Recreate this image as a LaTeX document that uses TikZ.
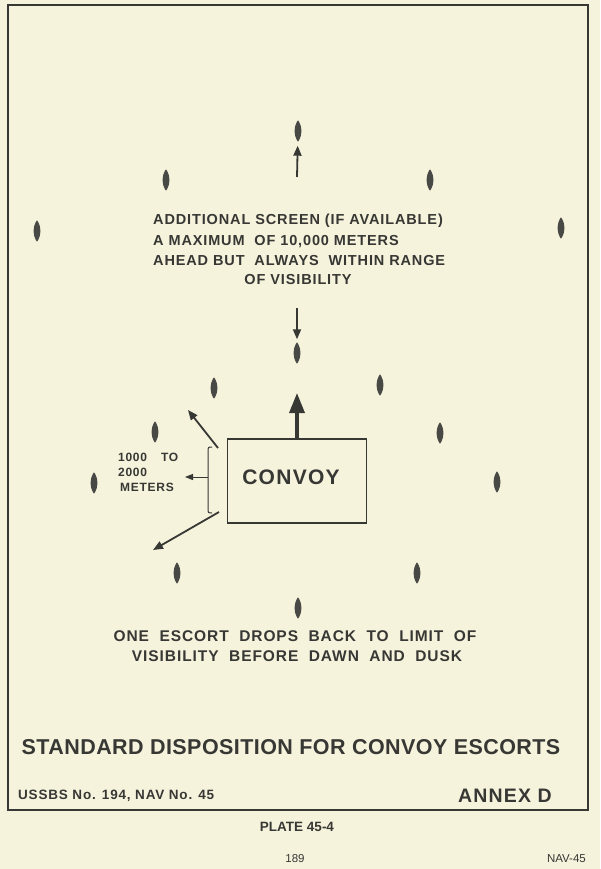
\documentclass[tikz,border=0pt]{standalone}
\usepackage{fontspec}
\setmainfont{Liberation Sans}
\newfontfamily\letr[LetterSpace=6]{Liberation Sans Bold}
\newfontfamily\ttl[LetterSpace=2]{Liberation Sans Bold}
\usepackage{xcolor}
\usetikzlibrary{arrows.meta,positioning,shapes.geometric}
\definecolor{paper}{RGB}{246,243,221}
\definecolor{ink}{RGB}{55,55,52}
\definecolor{hull}{RGB}{72,72,68}

\begin{document}
\begin{tikzpicture}[x=1pt,y=-1pt,>=Triangle,
    escort/.style={rectangle, minimum width=7pt, minimum height=21pt, inner sep=0pt},
    lettering/.style={inner sep=0pt, text=ink, font=\letr\fontsize{14.5}{18}\selectfont},
    course/.style={->, draw=ink, line width=1.8pt, >={Triangle[length=10pt,width=8pt]}}]
    \fill[paper] (0,0) rectangle (600,869);
    \useasboundingbox (0,0) rectangle (600,869);
    \draw[ink, line width=1.6pt] (8,5) rectangle (588,810);
    % escorts round the convoy
    \foreach \x/\y [count=\i] in {298/131, 166/180, 430/180, 37/231, 561/228, 297/353,
      214/388, 380/385, 155/432, 440/433, 94/483, 497/482, 177/573, 417/573, 298/608} {
      \node[escort] (e\i) at (\x,\y) {};
      \fill[hull] (e\i.north) .. controls ([xshift=4.5pt,yshift=5pt]e\i.center) and ([xshift=4.5pt,yshift=-5pt]e\i.center) .. (e\i.south)
        .. controls ([xshift=-4.5pt,yshift=-5pt]e\i.center) and ([xshift=-4.5pt,yshift=5pt]e\i.center) .. cycle;
    }
    \node[draw=ink, line width=1.5pt, minimum width=139pt, minimum height=84pt, inner sep=0pt] (convoy) at (297,481) {};
    \node[lettering, font=\letr\fontsize{21}{24}\selectfont] (convoylbl) at ([xshift=-6pt,yshift=4pt]convoy.center) {CONVOY};
    % screen ahead
    \node[lettering, anchor=base west] (scr1) at (153,224) {ADDITIONAL SCREEN (IF AVAILABLE)};
    \node[lettering, anchor=base west] (scr2) at (153,245) {A MAXIMUM~ OF 10,000 METERS};
    \node[lettering, anchor=base west] (scr3) at (153,265) {AHEAD BUT~ ALWAYS~ WITHIN RANGE};
    \node[lettering, anchor=base] (scr4) at (298,284) {OF VISIBILITY};
    \coordinate (upfrom) at (297,177);
    \coordinate (downfrom) at (297,308);
    \coordinate (ahead) at (297,393);
    \draw[course] (upfrom) -- (e1) [shorten >=4pt];
    \draw[course] (downfrom) -- (e6) [shorten >=3pt];
    \draw[->, draw=ink, line width=3.4pt, >={Triangle[length=20pt,width=15pt]}] (convoy.north) -- (ahead);
    % distance of the wing escorts
    \coordinate (nwfrom) at (218,448);
    \coordinate (nwto) at (188,410);
    \coordinate (swfrom) at (219,512);
    \coordinate (swto) at (153,550);
    \draw[course] (nwfrom) -- (nwto);
    \draw[course] (swfrom) -- (swto);
    \coordinate (brtop) at (212,447);
    \coordinate (brbot) at (212,513);
    \coordinate (brmid) at (208,477);
    \coordinate (brtip) at (185,477);
    \draw[ink, line width=1pt] (brtop) .. controls (208,447) .. (208,452) -- (208,508)
      .. controls (208,513) .. (brbot);
    \draw[->, draw=ink, line width=1pt, >={Triangle[length=8pt,width=6pt]}] (brmid) -- (brtip);
    \node[lettering, anchor=north west, align=left, font=\letr\fontsize{12}{15}\selectfont]
      (range) at (118,453) {1000\hspace{14pt}TO\\2000\\\hspace{2pt}METERS};
    % dawn and dusk
    \node[lettering, anchor=base, font=\letr\fontsize{15.5}{18}\selectfont] (drop1) at (295,641) {ONE~ ESCORT~ DROPS~ BACK~ TO~ LIMIT~ OF};
    \node[lettering, anchor=base, font=\letr\fontsize{15.5}{18}\selectfont] (drop2) at (297,661) {VISIBILITY~ BEFORE~ DAWN~ AND~ DUSK};
    % plate titles
    \node[inner sep=0pt, text=ink, anchor=base, font=\ttl\fontsize{21.5}{24}\selectfont] (title)
      at (291,754) {STANDARD DISPOSITION FOR CONVOY ESCORTS};
    \node[lettering, anchor=base west, font=\letr\fontsize{13.5}{15}\selectfont] (ussbs) at (18,799)
      {USSBS No. 194, NAV No. 45};
    \node[lettering, anchor=base east, font=\letr\fontsize{19.5}{22}\selectfont] (annex) at (552,802) {ANNEX D};
    \node[inner sep=0pt, text=ink, anchor=base, font=\bfseries\fontsize{13.5}{16}\selectfont] (plate) at (297,831) {PLATE 45-4};
    \node[inner sep=0pt, text=ink, anchor=base, font=\fontsize{11.5}{14}\selectfont] (page) at (295,862) {189};
    \node[inner sep=0pt, text=ink, anchor=base east, font=\fontsize{11.5}{14}\selectfont] (nav) at (586,862) {NAV-45};
\end{tikzpicture}
\end{document}
